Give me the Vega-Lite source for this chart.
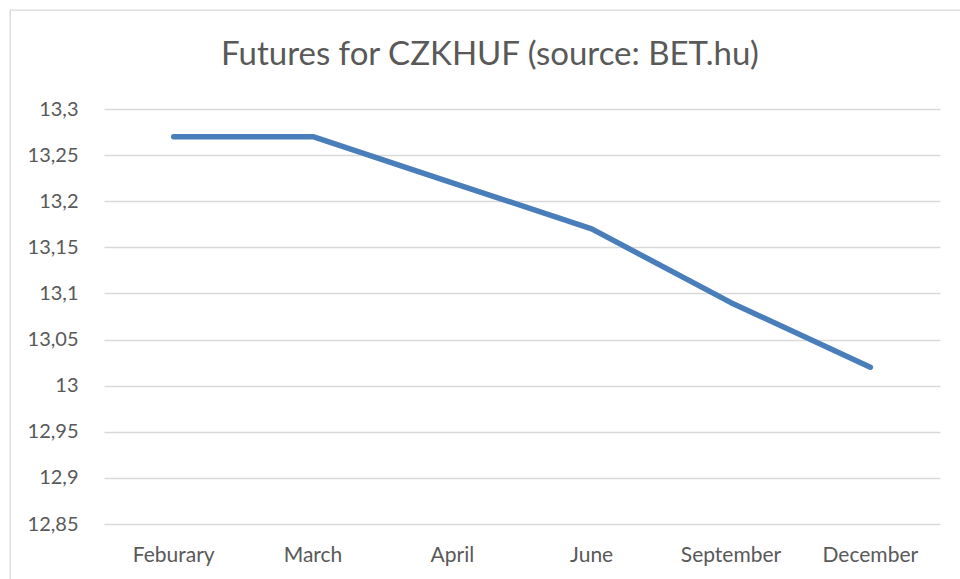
{
  "$schema": "https://vega.github.io/schema/vega-lite/v6.json",
  "width": 960,
  "height": 580,
  "padding": {"left": 10, "top": 10, "right": 0, "bottom": 0},
  "autosize": {"type": "pad"},
  "background": "white",
  "title": {
    "text": "Futures for CZKHUF (source: BET.hu)",
    "orient": "top",
    "anchor": "middle",
    "frame": "group",
    "offset": -88,
    "baseline": "alphabetic",
    "font": "Lato",
    "fontSize": 33,
    "fontWeight": "normal",
    "color": "#595959"
  },
  "data": {
    "values": [
      {"month": "Feburary", "price": 13.27},
      {"month": "March", "price": 13.27},
      {"month": "April", "price": 13.22},
      {"month": "June", "price": 13.17},
      {"month": "September", "price": 13.09},
      {"month": "December", "price": 13.02}
    ]
  },
  "mark": {"type": "line", "color": "#4A7EBB", "strokeWidth": 5.5, "strokeCap": "round", "strokeJoin": "round"},
  "encoding": {
    "x": {
      "field": "month",
      "type": "nominal",
      "sort": null,
      "scale": {"type": "band", "range": [94, 930], "paddingInner": 0, "paddingOuter": 0},
      "axis": {
        "title": null,
        "labelAngle": 0,
        "ticks": false,
        "domain": false,
        "grid": false,
        "offset": -66,
        "labelPadding": 20,
        "labelFont": "Lato",
        "labelFontSize": 21,
        "labelColor": "#595959"
      }
    },
    "y": {
      "field": "price",
      "type": "quantitative",
      "scale": {"domain": [12.85, 13.3], "range": [514, 99], "zero": false, "nice": false},
      "axis": {
        "title": null,
        "values": [12.85, 12.9, 12.95, 13, 13.05, 13.1, 13.15, 13.2, 13.25, 13.3],
        "labelExpr": "replace(format(datum.value, '.2~f'), '.', ',')",
        "ticks": false,
        "domain": false,
        "grid": true,
        "gridColor": "#d9d9d9",
        "gridWidth": 1.3,
        "offset": -94,
        "labelPadding": 26,
        "labelFont": "Lato",
        "labelFontSize": 20,
        "labelColor": "#595959"
      }
    }
  },
  "config": {
    "view": {"stroke": "#d9d9d9", "strokeWidth": 1.3}
  }
}
